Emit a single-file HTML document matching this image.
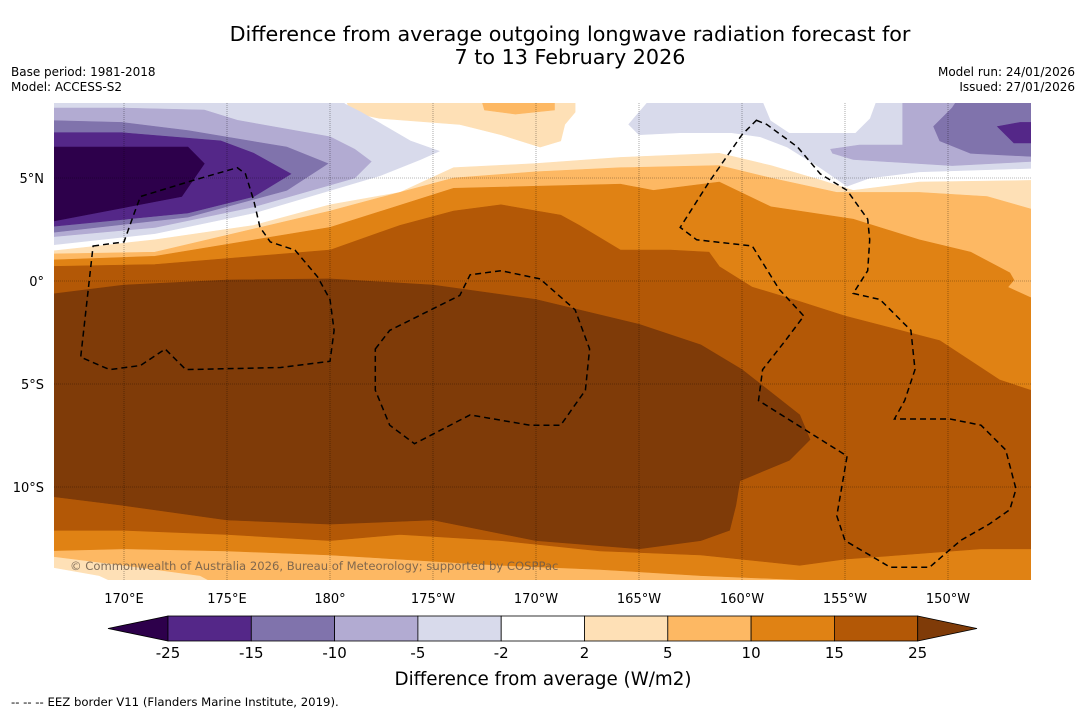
<!DOCTYPE html>
<html><head><meta charset="utf-8">
<style>
html,body{margin:0;padding:0;background:#fff;}
body{width:1085px;height:713px;overflow:hidden;font-family:"Liberation Sans","DejaVu Sans",sans-serif;}
svg text{font-family:"DejaVu Sans","Liberation Sans",sans-serif;}
</style></head>
<body>
<svg id="chart" width="1085" height="713" viewBox="0 0 1085 713" xmlns="http://www.w3.org/2000/svg">
<defs><clipPath id="mapclip"><rect x="54" y="103" width="977" height="477"/></clipPath></defs>
<text x="570" y="41" font-size="20.7" text-anchor="middle" fill="#000">Difference from average outgoing longwave radiation forecast for</text>
<text x="570" y="64" font-size="20.7" text-anchor="middle" fill="#000">7 to 13 February 2026</text>
<text x="11" y="76" font-size="12">Base period: 1981-2018</text>
<text x="11" y="91" font-size="12">Model: ACCESS-S2</text>
<text x="1075" y="76" font-size="12" text-anchor="end">Model run: 24/01/2026</text>
<text x="1075" y="91" font-size="12" text-anchor="end">Issued: 27/01/2026</text>
<g id="map" clip-path="url(#mapclip)"></g>
<g id="axes"></g>
<g id="cbar"></g>
<text x="543" y="685" font-size="18.3" text-anchor="middle">Difference from average (W/m2)</text>
<text x="11" y="706" font-size="11.7">--  --  -- EEZ border V11 (Flanders Marine Institute, 2019).</text>
</svg>
<script>
// ---- data (lon east 0-360, lat) ----
const lonTicks=[170,175,180,185,190,195,200,205,210];
const lonTickLabels=["170°E","175°E","180°","175°W","170°W","165°W","160°W","155°W","150°W"];
const latTicks=[5,0,-5,-10];
const latTickLabels=["5°N","0°","5°S","10°S"];
const cbLevels=[-25,-15,-10,-5,-2,2,5,10,15,25];
const cbColors=["#2d004b","#542788","#8073ac","#b2abd2","#d8daeb","#ffffff","#fee0b6","#fdb863","#e08214","#b35806","#7f3b08"];

const band2=[[166,1.4],[171.5,2.0],[176.3,2.7],[180,3.7],[183.4,4.3],[186,5.5],[190,5.7],[194.1,6.0],[198.9,6.2],[201.4,5.6],[203.8,4.9],[205.4,4.4],[208.6,4.8],[215,4.9],[215,-15],[170.3,-15],[168.8,-14.3],[166,-13.8]];
const blob2=[[180.7,9],[181,8.2],[182.4,7.9],[186.3,7.6],[188.3,7.1],[190.2,6.5],[191.2,6.8],[191.4,7.6],[191.9,8.2],[191.9,9]];
const blob5=[[187.3,9],[187.5,8.3],[189,8.1],[190.9,8.3],[190.9,9]];
const band5=[[166,1.3],[171.5,1.4],[180,3.4],[186,5.0],[190,5.3],[194.1,5.5],[198.9,5.6],[201.4,5.0],[204.6,4.3],[208.6,4.3],[211.9,4.1],[214,3.5],[215,3.3],[215,-15],[175,-15],[173.7,-14.3],[170,-13.8],[166,-13.3]];
const band10=[[166,1.0],[171.5,1.2],[180,2.6],[186,4.5],[194.1,4.7],[195.7,4.4],[198.9,4.8],[201.4,3.6],[205.4,3.0],[208.6,2.0],[211.1,1.4],[213,0.4],[213.2,0.05],[212.9,-0.3],[214,-0.8],[215,-0.8],[215,-15],[202.8,-14.5],[198,-14.3],[193.1,-14],[188.3,-13.8],[180,-13.3],[175,-13.1],[170,-13],[166,-13.1]];
const band15=[[166,0.7],[171.5,0.8],[180,1.5],[183.4,2.7],[186,3.4],[188.3,3.7],[191.2,3.2],[192.1,2.7],[194.1,1.5],[196.5,1.5],[198.4,1.4],[198.9,0.7],[200.5,-0.3],[202.5,-0.9],[205,-1.7],[209.6,-2.9],[212.5,-4.8],[214,-5.3],[215,-5.3],[215,-13],[211.6,-13],[207.7,-13.3],[205,-13.5],[202.8,-13.8],[198,-13.3],[193.1,-13.1],[188.3,-12.6],[183.4,-12.3],[180,-12.6],[175,-12.3],[170,-12.1],[166,-12.1]];
const band25=[[166,-0.7],[170,-0.2],[175,0.05],[180,0.1],[185,-0.2],[190,-0.9],[195,-2.1],[198,-3.1],[200,-4.3],[202.8,-6.5],[203.3,-7.7],[202.3,-8.7],[199.9,-9.7],[199.7,-10.9],[199.4,-12.1],[198,-12.6],[195,-13],[190,-12.6],[185,-11.6],[180,-11.8],[175,-11.6],[170,-10.9],[166,-10.4]];
const negL2=[[166,1.7],[171.5,2.3],[176.3,3.3],[180,4.4],[182.4,5.1],[184.4,5.9],[185.3,6.3],[183.9,6.8],[181.5,8.2],[180.7,8.6],[180.7,9],[166,9]];
const negL5=[[166,2.1],[171.5,2.6],[176.3,3.6],[181.2,5.0],[182,5.8],[181.2,6.4],[180,7.0],[175.5,7.8],[173.9,8.3],[169.9,8.4],[166,8.4]];
const negL10=[[166,2.3],[173.1,3.1],[177.9,4.4],[179.9,5.7],[177.9,6.5],[173.1,7.3],[169.9,7.7],[166,7.8]];
const negL15=[[166,2.6],[173.1,3.3],[176.3,4.1],[178.1,5.2],[176.3,6.2],[174.7,6.8],[169.9,7.2],[166,7.2]];
const negL25=[[166,2.8],[172.8,4.1],[173.9,5.7],[173.1,6.5],[166,6.5]];
const negR2=[[194.5,7.6],[195.7,9],[215,9],[215,5.5],[208.6,5.3],[206.2,5.0],[205.1,4.6],[203.8,5.5],[202.2,6.5],[200.9,7.0],[199.5,7.2],[197,7.2],[195,7.1]];
const whiteR=[[200.9,9],[201.4,7.8],[202.3,7.2],[205.5,7.2],[206.2,7.9],[206.6,9]];
const negR5=[[207.8,9],[207.8,6.6],[205.7,6.6],[204.3,6.4],[204.4,6.2],[205.4,5.9],[210.2,5.6],[214,5.8],[215,5.8],[215,9]];
const negR10=[[210.6,9],[210.2,8.4],[209.3,7.5],[209.6,6.8],[211.1,6.2],[215,6.0],[215,9]];
const negR15=[[212.4,7.5],[213.5,7.7],[215,7.7],[215,6.7],[213.2,6.7]];
const eezA=[[168.5,1.7],[170,1.9],[170.5,3.3],[170.8,4.1],[173.4,4.9],[175.5,5.5],[175.9,5.2],[176.3,3.9],[176.6,2.6],[177.1,1.9],[178.3,1.5],[179.4,0.2],[180,-0.9],[180.2,-2.4],[180,-3.9],[177.6,-4.2],[173,-4.3],[172,-3.3],[170.8,-4.1],[169.3,-4.3],[167.9,-3.7]];
const eezB=[[182.2,-3.3],[182.9,-2.4],[186.3,-0.7],[186.8,0.3],[188.3,0.5],[190.2,0.1],[191.9,-1.4],[192.6,-3.3],[192.4,-5.3],[191.2,-7.0],[189.7,-7.0],[186.8,-6.5],[184.1,-7.9],[182.9,-7.0],[182.2,-5.3]];
const eezC=[[200.7,7.8],[201.2,7.6],[202.7,6.5],[203.8,5.2],[205.1,4.4],[206.1,3.0],[206.2,2.0],[206.1,0.5],[205.4,-0.6],[206.7,-0.9],[208.2,-2.4],[208.4,-4.3],[207.9,-5.8],[207.4,-6.7],[208.6,-6.7],[210.1,-6.7],[211.6,-7.0],[212.8,-8.2],[213.3,-10.1],[213,-11.1],[212,-11.8],[210.6,-12.6],[209.1,-13.9],[207.2,-13.9],[205,-12.6],[204.6,-11.4],[205.1,-8.5],[200.8,-5.8],[201,-4.3],[202.1,-2.9],[203,-1.7],[201.8,-0.4],[200.5,1.7],[197.8,2.0],[197,2.6],[198.4,4.8],[200,7.1]];

// ---- axis functions ----
const X=lon=>124+(lon-170)*20.6;
const Y=lat=>281-lat*20.6;
const NS='http://www.w3.org/2000/svg';
const map=document.getElementById('map');
const axes=document.getElementById('axes');
const cbar=document.getElementById('cbar');
function mk(tag,parent){const e=document.createElementNS(NS,tag);parent.appendChild(e);return e;}
function pts(arr){return arr.map(p=>X(p[0]).toFixed(1)+','+Y(p[1]).toFixed(1)).join(' ');}

let bg=mk('rect',map);


bg.setAttribute('x',54);bg.setAttribute('y',103);bg.setAttribute('width',977);bg.setAttribute('height',477);bg.setAttribute('fill','#ffffff');

const layers=[[band2,6,'band-2-5'],[blob2,6,'blob-2-5'],[band5,7,'band-5-10'],[blob5,7,'blob-5-10'],[band10,8,'band-10-15'],[band15,9,'band-15-25'],[band25,10,'band-above-25'],
[negL2,4,'band-neg2-left'],[negL5,3,'band-neg5-left'],[negL10,2,'band-neg10-left'],[negL15,1,'band-neg15-left'],[negL25,0,'band-below-neg25-left'],
[negR2,4,'band-neg2-right'],[whiteR,5,'white-pocket-right'],[negR5,3,'band-neg5-right'],[negR10,2,'band-neg10-right'],[negR15,1,'band-neg15-right']];
layers.forEach(l=>{
  const p=mk('polygon',map);
  
  
  p.setAttribute('points',pts(l[0]));
  p.setAttribute('fill',cbColors[l[1]]);
  p.setAttribute('stroke',cbColors[l[1]]);
  p.setAttribute('stroke-width','0.6');
});
lonTicks.forEach(lon=>{
  const g=mk('line',map);
  
  
  g.setAttribute('x1',X(lon));g.setAttribute('x2',X(lon));g.setAttribute('y1',103);g.setAttribute('y2',580);
  g.setAttribute('stroke','#000');g.setAttribute('stroke-width','0.6');g.setAttribute('stroke-dasharray','1,1');g.setAttribute('opacity','0.55');
});
latTicks.forEach(lat=>{
  const g=mk('line',map);
  
  
  g.setAttribute('x1',54);g.setAttribute('x2',1031);g.setAttribute('y1',Y(lat));g.setAttribute('y2',Y(lat));
  g.setAttribute('stroke','#000');g.setAttribute('stroke-width','0.6');g.setAttribute('stroke-dasharray','1,1');g.setAttribute('opacity','0.55');
});
[[eezA,'eez-border-gilbert'],[eezB,'eez-border-phoenix'],[eezC,'eez-border-line-islands']].forEach(e=>{
  const p=mk('polygon',map);
  
  
  p.setAttribute('points',pts(e[0]));
  p.setAttribute('fill','none');p.setAttribute('stroke','#000');p.setAttribute('stroke-width','1.5');p.setAttribute('stroke-dasharray','6,4');
});
const cp=mk('text',map);


cp.setAttribute('x',70);cp.setAttribute('y',570);cp.setAttribute('font-size','11.6');cp.setAttribute('fill','#6b5a4a');cp.setAttribute('opacity','0.85');
cp.textContent='© Commonwealth of Australia 2026, Bureau of Meteorology; supported by COSPPac';
lonTicks.forEach((lon,i)=>{
  const t=mk('text',axes);
  
  
  t.setAttribute('x',X(lon));t.setAttribute('y',603);t.setAttribute('font-size','13');t.setAttribute('text-anchor','middle');
  t.textContent=lonTickLabels[i];
});
latTicks.forEach((lat,i)=>{
  const t=mk('text',axes);
  
  
  t.setAttribute('x',44);t.setAttribute('y',Y(lat)+5);t.setAttribute('font-size','13');t.setAttribute('text-anchor','end');
  t.textContent=latTickLabels[i];
});
const cbX0=168,cbW=83.3,cbY=616,cbH=25;
const lt=mk('polygon',cbar);


lt.setAttribute('points',`108,${cbY+cbH/2} ${cbX0},${cbY} ${cbX0},${cbY+cbH}`);lt.setAttribute('fill',cbColors[0]);lt.setAttribute('stroke','#000');lt.setAttribute('stroke-width','0.8');
for(let i=0;i<cbLevels.length-1;i++){
  const r=mk('rect',cbar);
  
  
  r.setAttribute('x',cbX0+i*cbW);r.setAttribute('y',cbY);r.setAttribute('width',cbW);r.setAttribute('height',cbH);
  r.setAttribute('fill',cbColors[i+1]);r.setAttribute('stroke','#000');r.setAttribute('stroke-width','0.8');
}
const xEnd=cbX0+(cbLevels.length-1)*cbW;
const rt=mk('polygon',cbar);


rt.setAttribute('points',`${xEnd},${cbY} 977,${cbY+cbH/2} ${xEnd},${cbY+cbH}`);rt.setAttribute('fill',cbColors[10]);rt.setAttribute('stroke','#000');rt.setAttribute('stroke-width','0.8');
cbLevels.forEach((v,i)=>{
  const t=mk('text',cbar);
  
  
  t.setAttribute('x',cbX0+i*cbW);t.setAttribute('y',658);t.setAttribute('font-size','15');t.setAttribute('text-anchor','middle');
  t.textContent=String(v);
});
</script>
</body></html>
